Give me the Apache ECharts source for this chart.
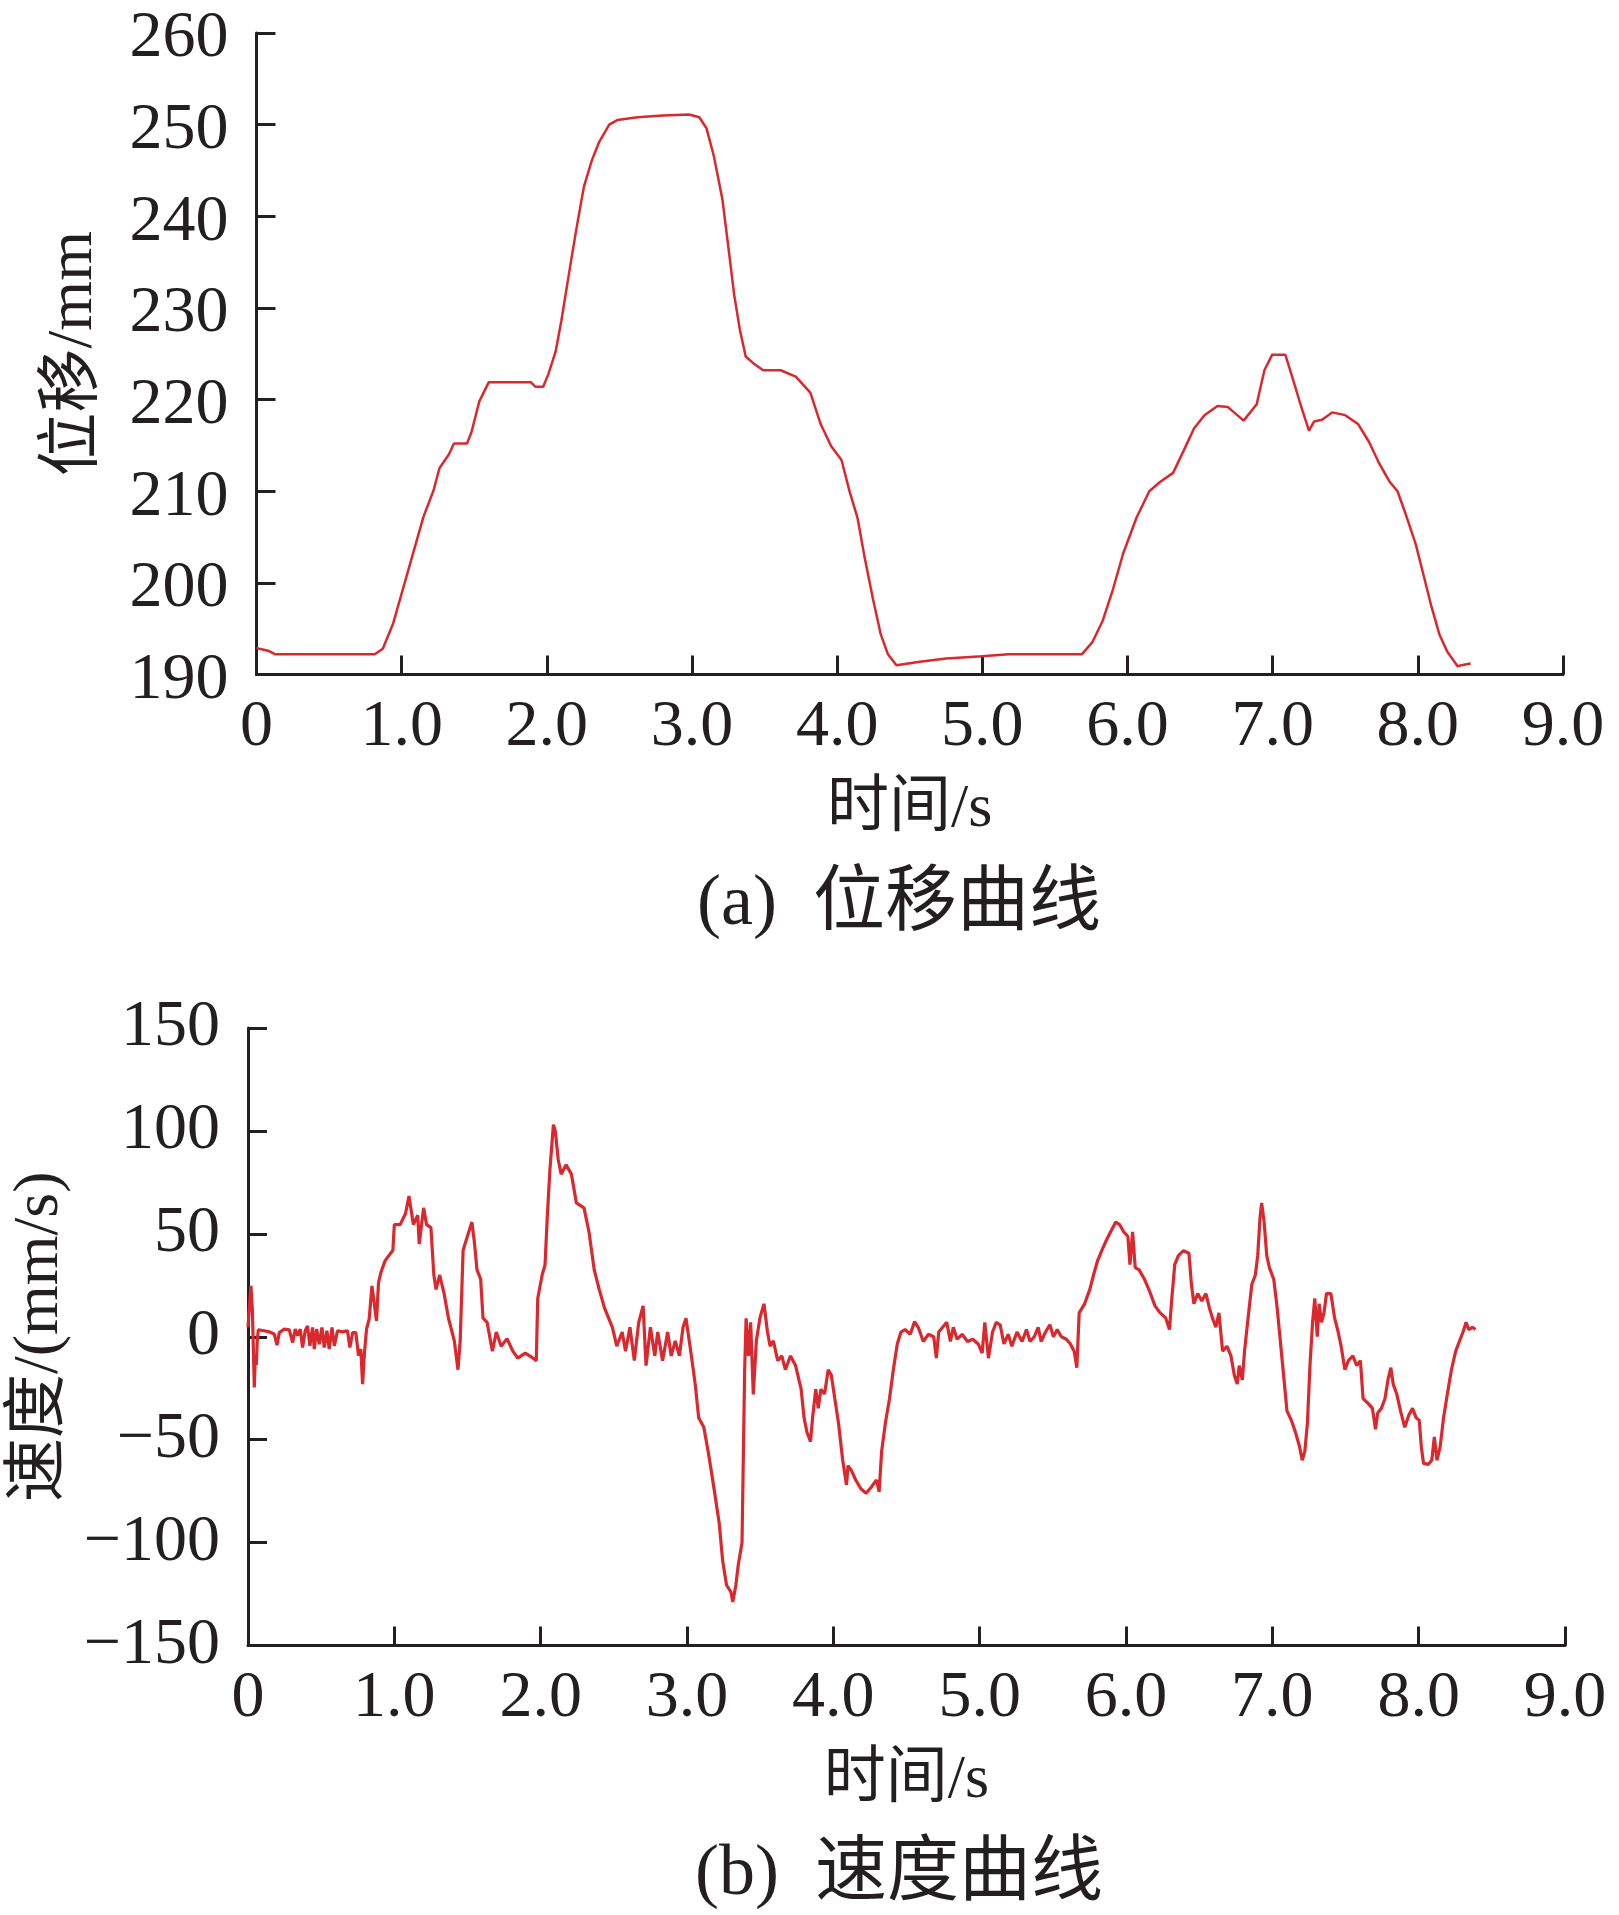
<!DOCTYPE html>
<html>
<head>
<meta charset="utf-8">
<script src="https://cdn.jsdelivr.net/npm/echarts@6/dist/echarts.min.js"></script>
<style>html,body{margin:0;padding:0;background:#fff}#c{width:1619px;height:1915px}</style>
</head>
<body>
<div id="c"></div>
<script>
// ---- data ----
const xTickLabels = ['0','1.0','2.0','3.0','4.0','5.0','6.0','7.0','8.0','9.0'];
const dispTickLabels = ['190','200','210','220','230','240','250','260'];
const velTickLabels = ['\u2212150','\u2212100','\u221250','0','50','100','150'];

const dispT = [0.0,0.02,0.08,0.13,0.5,0.815,0.87,0.94,1.01,1.08,1.15,1.22,1.26,1.325,1.36,1.45,1.48,1.535,1.6,1.89,1.92,1.975,2.01,2.06,2.10,2.15,2.20,2.255,2.31,2.36,2.43,2.485,2.625,2.80,2.98,3.05,3.10,3.15,3.21,3.26,3.29,3.33,3.37,3.42,3.49,3.61,3.715,3.815,3.887,3.959,4.03,4.085,4.14,4.19,4.246,4.30,4.35,4.408,4.57,4.75,5.0,5.18,5.685,5.757,5.83,5.9,5.97,6.062,6.15,6.224,6.314,6.386,6.458,6.53,6.62,6.69,6.80,6.89,6.943,6.997,7.087,7.14,7.195,7.25,7.285,7.34,7.41,7.50,7.59,7.663,7.735,7.807,7.86,7.914,7.986,8.04,8.094,8.148,8.202,8.274,8.30,8.364];
const dispV = [192.9,192.8,192.6,192.2,192.2,192.2,192.8,195.5,199.4,203.3,207.2,210.1,212.5,214.0,215.2,215.2,216.4,219.8,221.9,221.9,221.4,221.4,222.75,225.2,228.6,233.5,238.3,243.2,246.1,248.1,250.0,250.5,250.8,251.0,251.1,250.8,249.6,246.6,241.8,235.4,231.5,227.6,224.7,224.0,223.2,223.2,222.5,220.75,217.3,214.9,213.4,210.0,207.1,202.7,198.3,194.4,192.2,191.0,191.4,191.75,192.0,192.2,192.2,193.5,195.9,199.3,203.2,207.1,210.0,211.0,212.0,214.4,216.85,218.3,219.3,219.2,217.7,219.5,223.2,224.9,224.9,222.2,219.3,216.6,217.6,217.8,218.6,218.3,217.3,215.4,213.0,211.0,210.0,207.6,204.2,200.8,197.4,194.4,192.5,190.9,191.0,191.2];

const velT = [0.0,0.02,0.03,0.043,0.05,0.057,0.063,0.07,0.111,0.145,0.18,0.198,0.214,0.248,0.282,0.305,0.323,0.339,0.357,0.373,0.391,0.407,0.423,0.441,0.453,0.469,0.487,0.505,0.521,0.539,0.555,0.574,0.59,0.612,0.646,0.68,0.696,0.715,0.737,0.755,0.771,0.783,0.796,0.81,0.828,0.847,0.862,0.878,0.892,0.908,0.937,0.99,1.0,1.04,1.077,1.10,1.13,1.16,1.17,1.2,1.22,1.25,1.27,1.285,1.31,1.34,1.37,1.41,1.435,1.45,1.47,1.50,1.53,1.547,1.565,1.59,1.606,1.634,1.67,1.697,1.73,1.77,1.81,1.843,1.895,1.948,1.97,1.98,2.01,2.03,2.045,2.063,2.087,2.10,2.12,2.14,2.174,2.21,2.244,2.296,2.33,2.366,2.40,2.436,2.49,2.52,2.557,2.58,2.61,2.64,2.67,2.70,2.72,2.75,2.78,2.80,2.833,2.868,2.892,2.92,2.948,2.973,2.993,3.03,3.056,3.08,3.115,3.15,3.185,3.22,3.244,3.27,3.30,3.313,3.334,3.35,3.376,3.383,3.394,3.404,3.42,3.435,3.453,3.474,3.498,3.526,3.55,3.568,3.59,3.62,3.648,3.672,3.707,3.742,3.78,3.80,3.82,3.844,3.858,3.88,3.897,3.915,3.94,3.965,3.986,4.01,4.035,4.064,4.09,4.10,4.124,4.153,4.19,4.224,4.26,4.295,4.313,4.33,4.356,4.384,4.41,4.437,4.462,4.49,4.526,4.555,4.58,4.615,4.65,4.686,4.704,4.72,4.747,4.775,4.80,4.82,4.846,4.88,4.917,4.953,4.99,5.017,5.035,5.06,5.088,5.113,5.14,5.166,5.195,5.22,5.255,5.29,5.32,5.344,5.373,5.40,5.42,5.45,5.48,5.504,5.53,5.558,5.593,5.62,5.646,5.664,5.68,5.717,5.753,5.778,5.806,5.835,5.86,5.895,5.93,5.956,5.984,6.013,6.027,6.045,6.063,6.09,6.127,6.162,6.198,6.233,6.27,6.297,6.31,6.333,6.358,6.393,6.43,6.447,6.464,6.49,6.518,6.546,6.57,6.59,6.614,6.635,6.66,6.69,6.717,6.74,6.76,6.774,6.795,6.81,6.838,6.86,6.884,6.90,6.916,6.927,6.944,6.962,6.98,7.01,7.033,7.058,7.08,7.10,7.13,7.158,7.186,7.204,7.222,7.24,7.257,7.275,7.29,7.307,7.32,7.336,7.353,7.37,7.4,7.425,7.45,7.47,7.496,7.52,7.55,7.577,7.602,7.62,7.656,7.684,7.705,7.72,7.745,7.77,7.79,7.81,7.826,7.85,7.876,7.905,7.933,7.958,7.983,8.004,8.018,8.033,8.065,8.09,8.107,8.125,8.147,8.17,8.196,8.224,8.253,8.278,8.303,8.324,8.342,8.367,8.388];
const velV = [4.6,24.7,13,-24.6,-9,-13.7,-2.4,3.3,2.9,2.4,1.2,-4.1,2,3.7,3.4,-2.8,3.7,0.5,3.7,-5.2,2.9,5.3,-4.4,4.5,-6,3.7,-3.6,4.5,-5.2,2.9,-6,4.5,-4.4,2.9,2.4,2.9,-5.2,2,2,-9.2,-6,-23,-7.6,3.7,8.6,24.7,16.6,7.7,26.4,31.2,37,42,54.5,54.5,60,68.4,54.5,59,45,62.6,54.5,53,30,23,30,21,9,-2,-16,-2,42,49,55.7,46,32.5,28,9,7,-7,2.3,-4.6,-1,-7,-10.4,-8,-10.4,-11.6,18.6,30,35,58,81,103,100,86,79,83.5,79,65,62.6,51,32.5,23,14,4.6,-4.6,2.3,-7,4.6,-11.6,7,15,-14,4.6,-9.3,2.3,-11.6,2.3,-9.3,-2,-9.3,4.6,9,-9.3,-23,-39.4,-44,-58,-74,-90.5,-109,-120.6,-124,-128.8,-120.6,-111,-100,-67,-16,9,-9.3,7,-28,-2,9,16,2.3,-4.6,-2,-11.6,-9.3,-16,-9.3,-14,-25.5,-39.4,-46.4,-51,-39.4,-25.5,-34.8,-25.5,-27.8,-16,-18.6,-30,-41.8,-60,-72,-62.6,-65,-69.6,-74,-76,-73,-69.6,-75.4,-55.7,-41.8,-30,-16,-3.5,2.3,3.5,1.2,7.4,4.6,-2.3,1.2,0,-10.4,2.3,4.6,7,-2.3,4.6,-1.2,1.2,-2.3,-1.2,-3.5,-8,7,-10.4,2.3,7,5.8,-3.5,1.2,-4.6,2.3,-2.3,3.5,-2.3,0,4.6,-2.3,2.3,5.8,0,3.5,0,-1.2,-3.5,-7,-15,11.6,16,23,30,37,42,46,51,55.7,54.5,51,48.7,35,51,33.6,32.5,27.8,22,15,11.6,9.3,3.5,16,35,39.4,41.8,40.6,25.5,16,21,17.4,21,14,9.3,4.6,11.6,-7,-4.6,-9.3,-18.6,-23,-14,-21,-7,11.6,25.5,30,39.4,58,65,55.7,39.4,33.6,27.8,14,-4.6,-21,-36,-40.6,-46.4,-53.4,-60,-55.7,-41.8,-14,7,18.6,0,16,7,11.6,21,21,9.3,2.3,-4.6,-16,-11.6,-9.3,-14,-11.6,-30,-32.5,-34.8,-45,-37,-34.8,-30,-21,-15,-23,-27.8,-36,-44,-38,-34.8,-39.4,-40.6,-53.4,-61.5,-62,-60,-48.7,-60,-53.4,-39.4,-27.8,-16,-7,-2.3,2.3,7,3.5,4.6,3.5];

// ---- chart ----
const INK = '#231f20';
const RED = '#d9282e';
const LATIN = '"Liberation Serif","Times New Roman",serif';
const MIXED = '"Liberation Serif","Noto Sans CJK SC",serif';

function xAxisCfg(gridIndex){
  return {
    type:'value', gridIndex, min:0, max:9, interval:1,
    name:'时间/s', nameLocation:'middle', nameGap:104,
    nameTextStyle:{fontFamily:MIXED, fontSize:62, color:INK},
    axisLine:{show:true, onZero:false, lineStyle:{color:INK, width:3}},
    axisTick:{show:true, inside:true, length:19, lineStyle:{color:INK, width:3}},
    axisLabel:{margin:20, fontFamily:LATIN, fontSize:66, color:INK,
      formatter:(v)=>xTickLabels[Math.round(v)]},
    splitLine:{show:false}
  };
}

const chart = echarts.init(document.getElementById('c'), null, {renderer:'canvas'});
chart.setOption({
  backgroundColor:'#fff',
  animation:false,
  title:[
    {text:'(a)  位移曲线', left:894, top:864, textAlign:'center',
     textStyle:{fontFamily:MIXED, fontSize:72, fontWeight:'normal', color:INK}},
    {text:'(b)  速度曲线', left:894, top:1834, textAlign:'center',
     textStyle:{fontFamily:MIXED, fontSize:72, fontWeight:'normal', color:INK}}
  ],
  grid:[
    {left:256.5, top:33, width:1306.5, height:641.5, containLabel:false},
    {left:245.5, top:1028, width:1319.5, height:617.5, containLabel:false}
  ],
  xAxis:[xAxisCfg(0), xAxisCfg(1)],
  yAxis:[
    {type:'value', gridIndex:0, min:190, max:260, interval:10,
     name:'位移/mm', nameLocation:'middle', nameGap:150,
     nameTextStyle:{fontFamily:MIXED, fontSize:64, color:INK},
     axisLine:{show:true, lineStyle:{color:INK, width:3}},
     axisTick:{show:true, inside:true, length:19, lineStyle:{color:INK, width:3}},
     axisLabel:{margin:28, color:INK,
       formatter:(v)=>'{d|'+dispTickLabels[Math.round((v-190)/10)]+'}',
       rich:{d:{fontFamily:LATIN, fontSize:66, color:INK, padding:[12,0,0,0]}}},
     splitLine:{show:false}},
    {type:'value', gridIndex:1, min:-150, max:150, interval:50,
     name:'速度/(mm/s)', nameLocation:'middle', nameGap:176,
     nameTextStyle:{fontFamily:MIXED, fontSize:64, color:INK},
     axisLine:{show:true, onZero:false, lineStyle:{color:INK, width:3}},
     axisTick:{show:true, inside:true, length:19, lineStyle:{color:INK, width:3}},
     axisLabel:{margin:28, fontFamily:LATIN, fontSize:66, color:INK,
       formatter:(v)=>velTickLabels[Math.round((v+150)/50)]},
     splitLine:{show:false}}
  ],
  series:[
    {type:'line', xAxisIndex:0, yAxisIndex:0, showSymbol:false, symbol:'none',
     lineStyle:{color:RED, width:2.5}, data:dispT.map((t,i)=>[t,dispV[i]])},
    {type:'line', xAxisIndex:1, yAxisIndex:1, showSymbol:false, symbol:'none',
     lineStyle:{color:RED, width:3.2}, data:velT.map((t,i)=>[t,velV[i]])}
  ]
});
</script>
</body>
</html>
